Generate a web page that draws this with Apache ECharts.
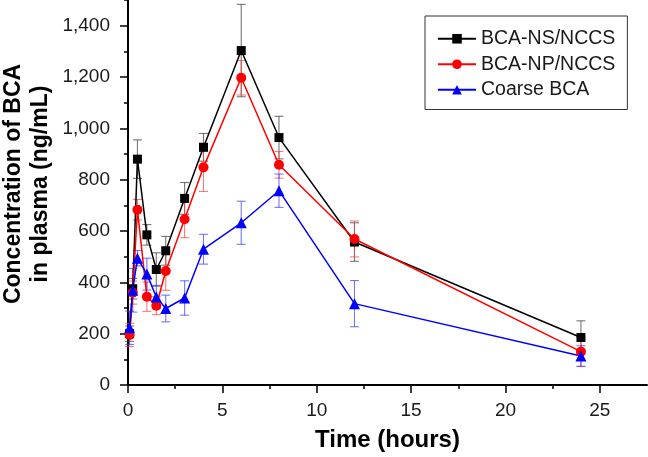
<!DOCTYPE html>
<html>
<head>
<meta charset="utf-8">
<script src="https://cdn.jsdelivr.net/npm/echarts@6/dist/echarts.min.js"></script>
<style>html,body{margin:0;padding:0;background:#fff;}#c{width:648px;height:457px;}</style>
</head>
<body>
<div id="c"></div>
<script>
// Sampling times (hours)
var time = [0.083, 0.25, 0.5, 1, 1.5, 2, 3, 4, 6, 8, 12, 24];
// Mean plasma concentration (ng/mL) and SD
var nsNccs = [200, 375, 880, 585, 450, 523, 727, 926, 1303, 964, 557, 185];
var nsNccsErr = [30, 40, 75, 40, 65, 56, 62, 54, 180, 83, 75, 65];
var npNccs = [195, 360, 683, 344, 309, 444, 646, 848, 1197, 858, 569, 130];
var npNccsErr = [45, 45, 40, 57, 35, 75, 72, 94, 67, 52, 70, 58];
var coarse = [223, 369, 494, 432, 343, 298, 339, 529, 632, 757, 317, 113];
var coarseErr = [65, 85, 30, 62, 45, 52, 67, 58, 84, 65, 90, 40];

var seriesNames = ['BCA-NS/NCCS', 'BCA-NP/NCCS', 'Coarse BCA'];
var xMajorTicks = [0, 5, 10, 15, 20, 25];
var xMinorTicks = [2.5, 7.5, 12.5, 17.5, 22.5];
var yMajorTicks = [0, 200, 400, 600, 800, 1000, 1200, 1400];
var yMinorTicks = [100, 300, 500, 700, 900, 1100, 1300, 1500];

var FONT = '"Liberation Sans", Arial, Helvetica, sans-serif';

function pairs(xs, ys) { return xs.map(function (x, i) { return [x, ys[i]]; }); }
function triples(xs, ys, es) { return xs.map(function (x, i) { return [x, ys[i], es[i]]; }); }

function errSeries(name, xs, ys, es, color) {
  return {
    name: name, type: 'custom', xAxisIndex: 0, yAxisIndex: 0, z: 1, silent: true,
    data: triples(xs, ys, es),
    renderItem: function (params, api) {
      var x = api.value(0), y = api.value(1), e = api.value(2);
      var top = api.coord([x, y + e]);
      var bot = api.coord([x, y - e]);
      var hw = 4.5;
      var st = { stroke: color, lineWidth: 1.1 };
      return {
        type: 'group',
        children: [
          { type: 'line', shape: { x1: top[0], y1: top[1], x2: bot[0], y2: bot[1] }, style: st },
          { type: 'line', shape: { x1: top[0] - hw, y1: top[1], x2: top[0] + hw, y2: top[1] }, style: st },
          { type: 'line', shape: { x1: bot[0] - hw, y1: bot[1], x2: bot[0] + hw, y2: bot[1] }, style: st }
        ]
      };
    }
  };
}

function lineSeries(name, xs, ys, color, symbol, size) {
  return {
    name: name, type: 'line', xAxisIndex: 0, yAxisIndex: 0, z: 3,
    data: pairs(xs, ys),
    symbol: symbol, symbolSize: size, showAllSymbol: true,
    lineStyle: { color: color, width: 1.5 },
    itemStyle: { color: color, borderWidth: 0 },
    emphasis: { disabled: true }
  };
}

var axisLineStyle = { color: '#000', width: 2 };
var labelStyle = { color: '#1a1a1a', fontSize: 19, fontFamily: FONT };

var chart = echarts.init(document.getElementById('c'), null, { renderer: 'canvas' });
chart.setOption({
  animation: false,
  backgroundColor: '#fff',
  grid: { left: 128, right: 1, top: 0, bottom: 70, containLabel: false },
  legend: {
    data: seriesNames,
    orient: 'vertical',
    left: 425, top: 16,
    padding: [12, 12, 9, 12],
    itemWidth: 38, itemHeight: 12, itemGap: 4,
    borderColor: '#333', borderWidth: 1,
    textStyle: { color: '#1a1a1a', fontSize: 19.5, fontFamily: FONT, lineHeight: 21.5 }
  },
  xAxis: [
    {
      type: 'value', min: 0, max: 27.5, position: 'bottom',
      axisLine: { show: true, onZero: false, lineStyle: axisLineStyle },
      axisTick: { show: true, customValues: xMajorTicks, length: 8, lineStyle: { color: '#000', width: 1.5 } },
      axisLabel: { show: true, customValues: xMajorTicks, margin: 16, ...labelStyle },
      splitLine: { show: false },
      name: 'Time (hours)', nameLocation: 'middle', nameGap: 43,
      nameTextStyle: { color: '#000', fontSize: 24, fontWeight: 'bold', fontFamily: FONT }
    },
    {
      type: 'value', min: 0, max: 27.5, position: 'bottom',
      axisLine: { show: false, onZero: false },
      axisTick: { show: true, customValues: xMinorTicks, length: 4, lineStyle: { color: '#000', width: 1.5 } },
      axisLabel: { show: false },
      splitLine: { show: false }
    }
  ],
  yAxis: [
    {
      type: 'value', min: 0, max: 1500, position: 'left',
      axisLine: { show: true, onZero: false, lineStyle: axisLineStyle },
      axisTick: { show: true, customValues: yMajorTicks, length: 8, lineStyle: { color: '#000', width: 1.5 } },
      axisLabel: {
        show: true, customValues: yMajorTicks, margin: 18, ...labelStyle,
        formatter: function (v) { return Number(v).toLocaleString('en-US'); }
      },
      splitLine: { show: false }
    },
    {
      type: 'value', min: 0, max: 1500, position: 'left',
      axisLine: { show: false, onZero: false },
      axisTick: { show: true, customValues: yMinorTicks, length: 4, lineStyle: { color: '#000', width: 1.5 } },
      axisLabel: { show: false },
      splitLine: { show: false }
    }
  ],
  graphic: [
    {
      type: 'text', x: 27, y: 184, rotation: Math.PI / 2,
      style: {
        text: 'Concentration of BCA\nin plasma (ng/mL)',
        fill: '#000', font: 'bold 23px ' + FONT,
        align: 'center', verticalAlign: 'middle', lineHeight: 27
      }
    }
  ],
  series: [
    errSeries('errNS', time, nsNccs, nsNccsErr, 'rgba(60,60,60,0.7)'),
    errSeries('errNP', time, npNccs, npNccsErr, 'rgba(240,70,70,0.7)'),
    errSeries('errCoarse', time, coarse, coarseErr, 'rgba(60,60,255,0.7)'),
    lineSeries(seriesNames[0], time, nsNccs, '#000000', 'rect', 9),
    lineSeries(seriesNames[1], time, npNccs, '#ff0000', 'circle', 10),
    lineSeries(seriesNames[2], time, coarse, '#0000ff', 'triangle', 11)
  ]
});
</script>
</body>
</html>
